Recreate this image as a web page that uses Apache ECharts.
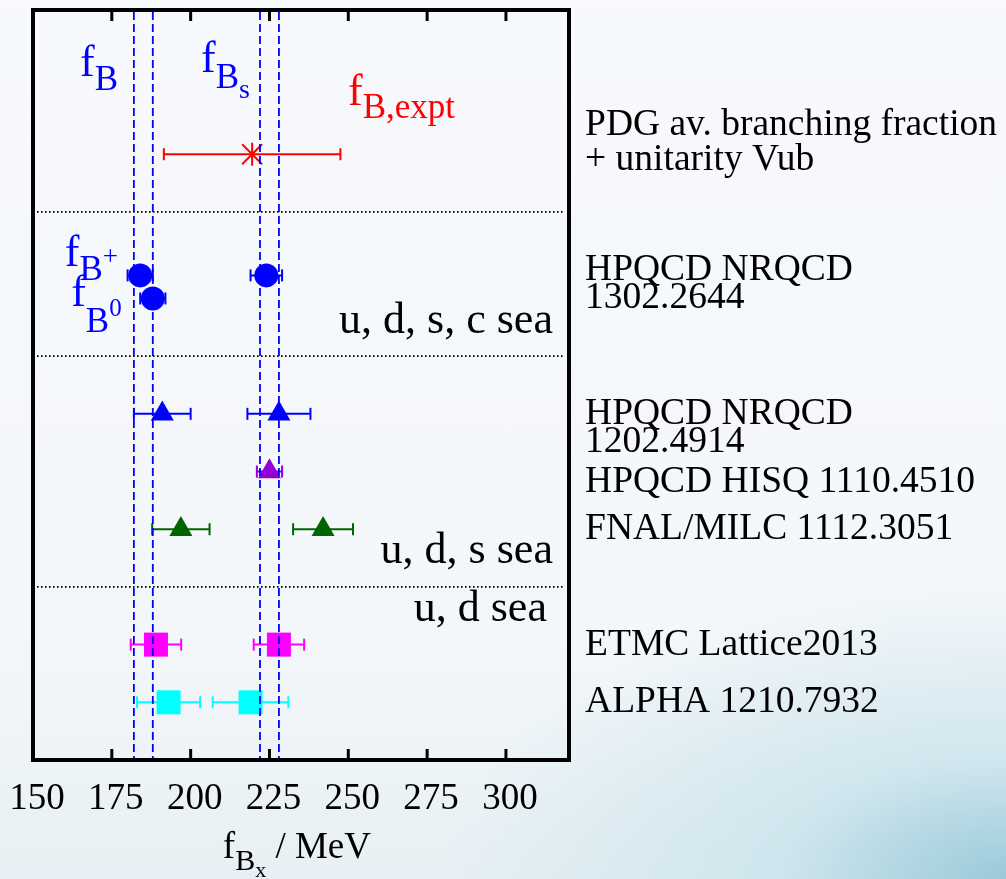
<!DOCTYPE html>
<html>
<head>
<meta charset="utf-8">
<title>f_B and f_Bs lattice results</title>
<script src="https://cdn.jsdelivr.net/npm/echarts@6/dist/echarts.min.js"></script>
<style>
  html, body { margin: 0; padding: 0; width: 1006px; height: 879px; overflow: hidden; }
  body {
    background:
      radial-gradient(ellipse 560px 300px at 100% 100%, rgba(150, 200, 216, 0.95) 0%, rgba(185, 220, 231, 0.55) 40%, rgba(225, 239, 244, 0) 100%),
      linear-gradient(180deg, #f7f9fc 0%, #f4f7fa 72%, #e7f0f4 100%);
  }
  #chart { width: 1006px; height: 879px; }
</style>
</head>
<body>
<div id="chart"></div>
<script>
const SERIF = '"Liberation Serif", "Times New Roman", Times, serif';

// x-axis ticks, MeV
const xTicks = [150, 175, 200, 225, 250, 275, 300];
const xMin = 150, xMax = 320;
const rowMin = 0, rowMax = 13;

// averaged lattice bands (MeV): lower / upper edges
const fBBand = [182, 188];
const fBsBand = [222, 228];

// rows separating the sea-content groups
const separatorRows = [3.5, 6, 10];

// measurements: [central value, error, row]
const pdgExpt        = [[219.5, 28, 2.5]];
const hpqcdNrqcd2013 = [[184, 4, 4.6], [188, 4, 5.0], [224, 5, 4.6]];
const hpqcdNrqcd2012 = [[191, 9, 7], [228, 10, 7]];
const hpqcdHisq      = [[225, 4, 8]];
const fnalMilc       = [[196.9, 9.1, 9], [242.0, 9.5, 9]];
const etmc           = [[189, 8, 11], [228, 8, 11]];
const alpha          = [[193, 10, 12], [219, 12, 12]];

// collaboration labels: one entry per text line, with its baseline row
const sourceLines = [
  'PDG av. branching fraction', '+ unitarity Vub',
  'HPQCD NRQCD', '1302.2644',
  'HPQCD NRQCD', '1202.4914',
  'HPQCD HISQ 1110.4510',
  'FNAL/MILC 1112.3051',
  'ETMC Lattice2013',
  'ALPHA 1210.7932'
];
const sourceRows = [2.196, 2.803, 4.71, 5.2, 7.194, 7.696, 8.378, 9.199, 11.21, 12.2];

const seaLines = ['u, d, s, c sea', 'u, d, s sea', 'u, d sea'];
const seaRows = [5.634, 9.62, 10.63];

const BLUE = '#0000ff';

// ---- text helpers -------------------------------------------------------
// parts: [text, fontSize, baseline drop in px relative to the main baseline]
const K = 0.81; // baseline position below the top of a text line, in em
function buildRich(parts) {
  let top = Infinity;
  parts.forEach(([, s, d]) => { top = Math.min(top, d - K * s); });
  const rich = {};
  let text = '';
  parts.forEach(([t, s, d], i) => {
    const key = 'p' + i;
    rich[key] = {
      fontSize: s,
      fontFamily: SERIF,
      verticalAlign: 'top',
      padding: [d - K * s - top, 0, 0, 0]
    };
    text += '{' + key + '|' + t + '}';
  });
  return { text, rich, offset: top };
}

const SRC = 37.5, SEA = 44, BIG = 44, SUB = 35;

// free text placed at data coordinates (x value, baseline row)
const annotations = [
  { x: 164.9, row: 1.184, color: BLUE, align: 'left', parts: [['f', BIG, 0], ['B', SUB, 13.4]] },
  { x: 203.3, row: 1.109, color: BLUE, align: 'left', parts: [['f', BIG, 0], ['B', SUB, 15.3], ['s', 28, 25.3]] },
  { x: 249.9, row: 1.681, color: '#ff0000', align: 'left', parts: [['f', BIG, 0], ['B,expt', SUB, 13]] },
  { x: 160.1, row: 4.477, color: BLUE, align: 'left', parts: [['f', BIG, 0], ['B', SUB, 13.4], ['+', 27, -2]] },
  { x: 162.1, row: 5.171, color: BLUE, align: 'left', parts: [['f', BIG, 0], ['B', SUB, 25], ['0', 25, 8.4]] },
  { x: 233.7, row: 14.73, color: '#000', align: 'center', parts: [['f', 37, 0], ['B', 30, 12], ['x', 22, 18], [' / MeV', 37, 0]] }
];
seaLines.forEach((t, i) => {
  annotations.push({ x: i === 2 ? 313.0 : 314.9, row: seaRows[i], color: '#000', align: 'right', parts: [[t, SEA, 0]] });
});
sourceLines.forEach((t, i) => {
  annotations.push({ x: 325.1, row: sourceRows[i], color: '#000', align: 'left', parts: [[t, SRC, 0]] });
});

// ---- marker shapes -------------------------------------------------------
function marker(kind, c, color) {
  const [cx, cy] = c;
  if (kind === 'circle') {
    return { type: 'circle', shape: { cx, cy, r: 12 }, style: { fill: color } };
  }
  if (kind === 'square') {
    return { type: 'rect', shape: { x: cx - 12, y: cy - 12, width: 24, height: 24 }, style: { fill: color } };
  }
  if (kind === 'triangle') {
    const w = 23, h = 20;
    return {
      type: 'polygon',
      shape: { points: [[cx, cy - 2 * h / 3], [cx + w / 2, cy + h / 3], [cx - w / 2, cy + h / 3]] },
      style: { fill: color }
    };
  }
  // asterisk: vertical stroke plus two diagonals
  const a = 11.5, d = 10;
  const st = { stroke: color, lineWidth: 2 };
  return {
    type: 'group',
    children: [
      { type: 'line', shape: { x1: cx, y1: cy - a, x2: cx, y2: cy + a }, style: st },
      { type: 'line', shape: { x1: cx - d, y1: cy - d, x2: cx + d, y2: cy + d }, style: st },
      { type: 'line', shape: { x1: cx - d, y1: cy + d, x2: cx + d, y2: cy - d }, style: st }
    ]
  };
}

function errorSeries(name, data, color, kind) {
  return {
    type: 'custom',
    name,
    data,
    coordinateSystem: 'cartesian2d',
    encode: { x: 0, y: 2 },
    z: 3,
    renderItem(params, api) {
      const v = api.value(0), e = api.value(1), r = api.value(2);
      const c = api.coord([v, r]);
      const lo = api.coord([v - e, r]);
      const hi = api.coord([v + e, r]);
      const cap = 6;
      const ls = { stroke: color, lineWidth: 2 };
      return {
        type: 'group',
        children: [
          { type: 'line', shape: { x1: lo[0], y1: c[1], x2: hi[0], y2: c[1] }, style: ls },
          { type: 'line', shape: { x1: lo[0], y1: c[1] - cap, x2: lo[0], y2: c[1] + cap }, style: ls },
          { type: 'line', shape: { x1: hi[0], y1: c[1] - cap, x2: hi[0], y2: c[1] + cap }, style: ls },
          marker(kind, c, color)
        ]
      };
    }
  };
}

const chart = echarts.init(document.getElementById('chart'), null, { renderer: 'canvas' });

const frameLine = { color: '#000', width: 4, cap: 'square' };

const option = {
  animation: false,
  backgroundColor: 'transparent',
  grid: { left: 33, right: 437, top: 10, bottom: 119, containLabel: false },
  xAxis: [
    {
      type: 'value', position: 'bottom', min: xMin, max: xMax, interval: 25,
      axisLine: { show: true, onZero: false, lineStyle: frameLine },
      axisTick: { show: false },
      axisLabel: {
        show: true, margin: 21, color: '#000', fontSize: 37, fontFamily: SERIF,
        padding: [0, 0, 0, 8],
        showMaxLabel: false,
        formatter: v => (xTicks.indexOf(v) >= 0 ? String(v) : '')
      },
      splitLine: { show: false }
    },
    {
      type: 'value', position: 'top', min: xMin, max: xMax, interval: 25,
      axisLine: { show: true, onZero: false, lineStyle: frameLine },
      axisTick: { show: false },
      axisLabel: { show: false },
      splitLine: { show: false }
    }
  ],
  yAxis: [
    {
      type: 'value', position: 'left', min: rowMin, max: rowMax, inverse: true,
      axisLine: { show: true, onZero: false, lineStyle: frameLine },
      axisTick: { show: false }, axisLabel: { show: false }, splitLine: { show: false }
    },
    {
      type: 'value', position: 'right', min: rowMin, max: rowMax, inverse: true,
      axisLine: { show: true, onZero: false, lineStyle: frameLine },
      axisTick: { show: false }, axisLabel: { show: false }, splitLine: { show: false }
    }
  ],
  series: [
    // inward tick marks on the top and bottom frame edges
    {
      type: 'custom', name: 'ticks', coordinateSystem: 'cartesian2d', z: 6, clip: false,
      data: xTicks.filter(v => v > xMin && v < xMax).map(v => [v, rowMin]),
      encode: { x: 0, y: 1 },
      renderItem(params, api) {
        const t = api.coord([api.value(0), rowMin]);
        const b = api.coord([api.value(0), rowMax]);
        const st = { stroke: '#000', lineWidth: 3 };
        return {
          type: 'group',
          children: [
            { type: 'line', shape: { x1: t[0], y1: t[1], x2: t[0], y2: t[1] + 11 }, style: st },
            { type: 'line', shape: { x1: b[0], y1: b[1], x2: b[0], y2: b[1] - 11 }, style: st }
          ]
        };
      }
    },
    // dotted group separators
    {
      type: 'custom', name: 'separators', coordinateSystem: 'cartesian2d', z: 2,
      data: separatorRows.map(r => [xMin, r]),
      encode: { x: 0, y: 1 },
      renderItem(params, api) {
        const a = api.coord([xMin, api.value(1)]);
        const b = api.coord([xMax, api.value(1)]);
        return {
          type: 'line',
          shape: { x1: a[0] + 4, y1: a[1], x2: b[0] - 4, y2: b[1] },
          style: { stroke: '#000', lineWidth: 1.6, lineDash: [1.6, 2.4] }
        };
      }
    },
    errorSeries('PDG', pdgExpt, '#ff0000', 'star'),
    errorSeries('HPQCD NRQCD 1302.2644', hpqcdNrqcd2013, BLUE, 'circle'),
    errorSeries('HPQCD NRQCD 1202.4914', hpqcdNrqcd2012, BLUE, 'triangle'),
    errorSeries('HPQCD HISQ 1110.4510', hpqcdHisq, '#9400d3', 'triangle'),
    errorSeries('FNAL/MILC 1112.3051', fnalMilc, '#006400', 'triangle'),
    errorSeries('ETMC Lattice2013', etmc, '#ff00ff', 'square'),
    errorSeries('ALPHA 1210.7932', alpha, '#00ffff', 'square'),
    // dashed band edges for f_B and f_Bs
    {
      type: 'custom', name: 'bands', coordinateSystem: 'cartesian2d', z: 4,
      data: fBBand.concat(fBsBand).map(v => [v, rowMin]),
      encode: { x: 0, y: 1 },
      renderItem(params, api) {
        const a = api.coord([api.value(0), rowMin]);
        const b = api.coord([api.value(0), rowMax]);
        return {
          type: 'line',
          shape: { x1: a[0], y1: a[1] + 2, x2: b[0], y2: b[1] - 2 },
          style: { stroke: BLUE, lineWidth: 1.8, lineDash: [8, 4] }
        };
      }
    },
    // text annotations and collaboration labels
    {
      type: 'custom', name: 'labels', coordinateSystem: 'cartesian2d', z: 5, clip: false,
      data: annotations.map(a => [a.x, a.row]),
      encode: { x: 0, y: 1 },
      renderItem(params, api) {
        const a = annotations[params.dataIndex];
        const p = api.coord([api.value(0), api.value(1)]);
        const r = buildRich(a.parts);
        return {
          type: 'text',
          x: p[0],
          y: p[1] + r.offset,
          style: {
            text: r.text,
            rich: r.rich,
            fill: a.color,
            fontFamily: SERIF,
            fontSize: a.parts[0][1],
            align: a.align,
            verticalAlign: 'top'
          }
        };
      }
    }
  ]
};

chart.setOption(option);
</script>
</body>
</html>
